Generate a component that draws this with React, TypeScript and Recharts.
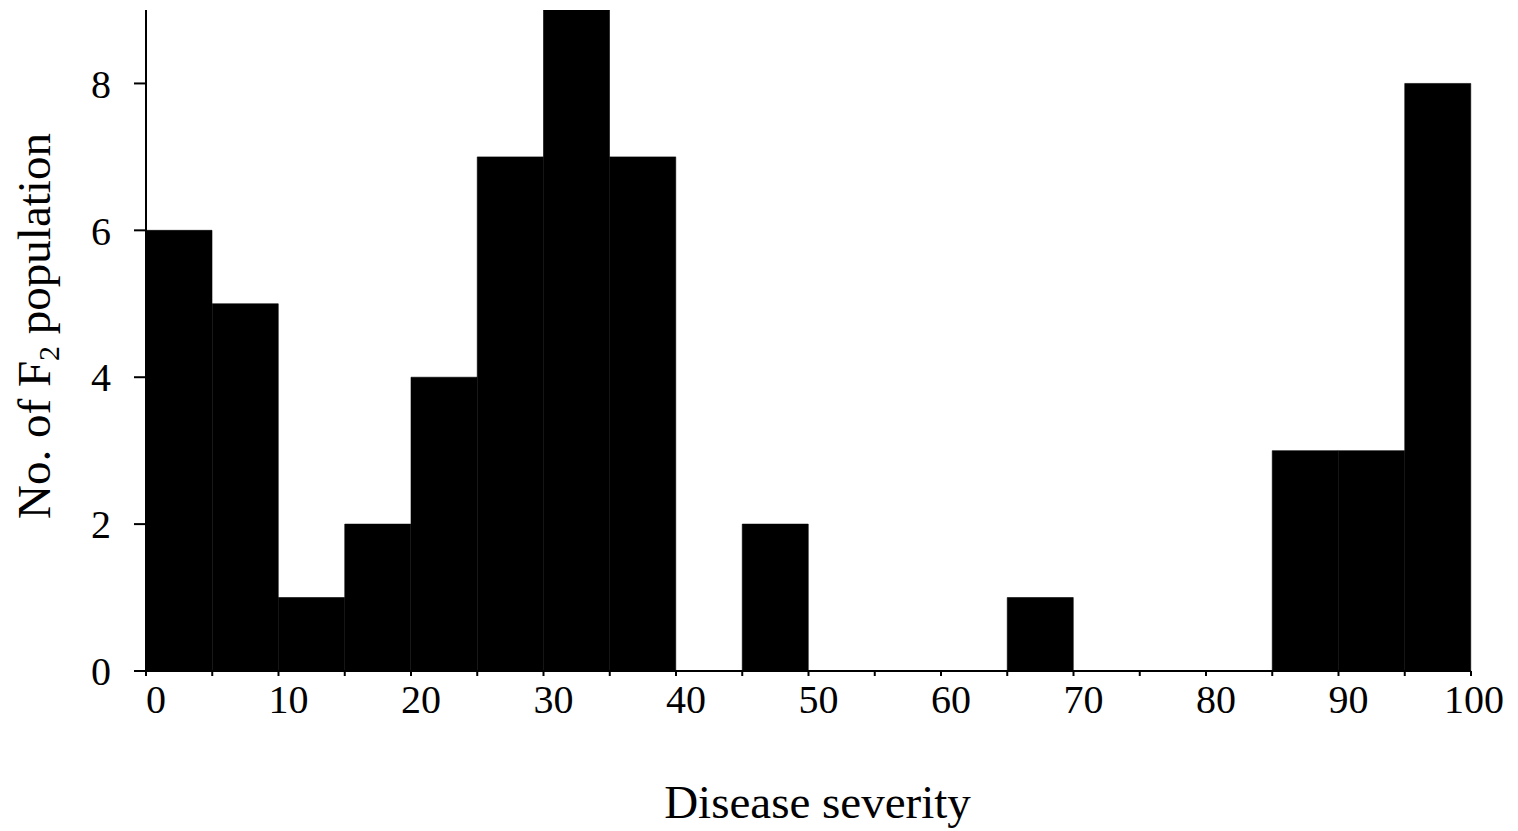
import React from 'react';
import { ComposedChart, Bar, XAxis, YAxis, Label } from 'recharts';

const binStarts = [0, 5, 10, 15, 20, 25, 30, 35, 40, 45, 50, 55, 60, 65, 70, 75, 80, 85, 90, 95];
const binMids = [2.5, 7.5, 12.5, 17.5, 22.5, 27.5, 32.5, 37.5, 42.5, 47.5, 52.5, 57.5, 62.5, 67.5, 72.5, 77.5, 82.5, 87.5, 92.5, 97.5];
const counts = [6, 5, 1, 2, 4, 7, 9, 7, 0, 2, 0, 0, 0, 1, 0, 0, 0, 3, 3, 8];
const xTicks = [0, 5, 10, 15, 20, 25, 30, 35, 40, 45, 50, 55, 60, 65, 70, 75, 80, 85, 90, 95, 100];
const yTicks = [0, 2, 4, 6, 8];

const data = binStarts.map((s, i) => ({ bin: String(s), mid: binMids[i], count: counts[i] }));

const FONT = '"Liberation Serif", "Times New Roman", serif';

const XTick = (props: any) => {
  const { x, y, payload } = props;
  const v = payload.value;
  if (v % 10 !== 0) return null;
  const dx = v === 100 ? 3 : 10;
  return (
    <text x={x + dx} y={y} dy="0.71em" textAnchor="middle" fontFamily={FONT} fontSize={40} fill="#000">
      {v}
    </text>
  );
};

const YLabel = () => (
  <text
    x={0}
    y={0}
    transform="translate(50, 326) rotate(-90)"
    textAnchor="middle"
    fontFamily={FONT}
    fontSize={47}
    fill="#000"
  >
    No. of F<tspan fontSize={30} dy={9}>2</tspan><tspan dy={-9}> population</tspan>
  </text>
);

const XLabel = (props: any) => {
  const vb = props.viewBox || {};
  return (
    <text
      x={vb.x + vb.width / 2 + 9}
      y={vb.y + 147}
      textAnchor="middle"
      fontFamily={FONT}
      fontSize={47}
      fill="#000"
    >
      Disease severity
    </text>
  );
};

export default function App() {
  return (
    <div style={{ position: 'absolute', left: 0, top: 0, width: 1518, height: 831, background: '#fff' }}>
      <ComposedChart
        width={1518}
        height={831}
        data={data}
        margin={{ top: 10, right: 47, bottom: 0, left: 0 }}
        barCategoryGap={0}
        barGap={0}
      >
        <XAxis xAxisId="cat" dataKey="bin" type="category" hide height={0} />
        <XAxis
          xAxisId="num"
          dataKey="mid"
          type="number"
          domain={[0, 100]}
          ticks={xTicks}
          interval={0}
          tickSize={5}
          tickMargin={9}
          tick={<XTick />}
          axisLine={{ stroke: '#000', strokeWidth: 2 }}
          tickLine={{ stroke: '#000', strokeWidth: 2 }}
          height={160}
        >
          <Label content={<XLabel />} />
        </XAxis>
        <YAxis
          type="number"
          domain={[0, 9]}
          ticks={yTicks}
          allowDataOverflow
          tickSize={12}
          tickMargin={23}
          width={146}
          axisLine={{ stroke: '#000', strokeWidth: 2 }}
          tickLine={{ stroke: '#000', strokeWidth: 2 }}
          tick={{ fontFamily: FONT, fontSize: 40, fill: '#000' }}
          label={<YLabel />}
        />
        <Bar xAxisId="cat" dataKey="count" fill="#000" stroke="#000" strokeWidth={0.6} isAnimationActive={false} />
      </ComposedChart>
    </div>
  );
}
